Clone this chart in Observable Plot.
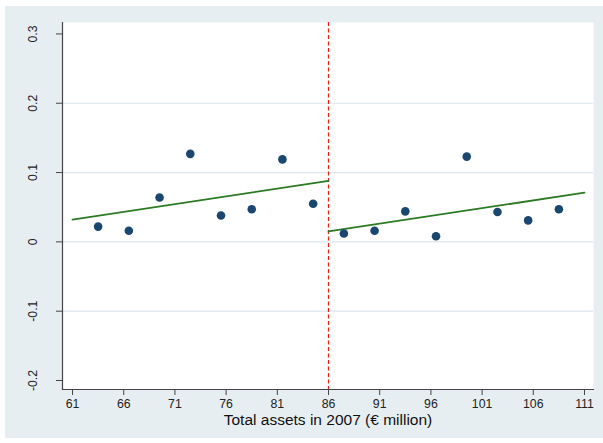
<!DOCTYPE html>
<html>
<head>
<meta charset="utf-8">
<script src="https://cdn.jsdelivr.net/npm/d3@7"></script>
<script src="https://cdn.jsdelivr.net/npm/@observablehq/plot@0.6"></script>
<style>
  html, body { margin: 0; padding: 0; background: #ffffff; }
  #chart { position: absolute; left: 5px; top: 6px; }
  #chart svg { display: block; background: #e7eef2; }
</style>
</head>
<body>
<div id="chart"></div>
<script>
// Binned means, left of cutoff
const leftBinX = [63.5, 66.5, 69.5, 72.5, 75.5, 78.5, 81.5, 84.5];
const leftBinY = [0.022, 0.016, 0.064, 0.127, 0.038, 0.047, 0.119, 0.055];
// Binned means, right of cutoff
const rightBinX = [87.5, 90.5, 93.5, 96.5, 99.5, 102.5, 105.5, 108.5];
const rightBinY = [0.012, 0.016, 0.044, 0.008, 0.123, 0.043, 0.031, 0.047];
// Linear fits
const leftFitX = [61, 86];
const leftFitY = [0.032, 0.088];
const rightFitX = [86, 111];
const rightFitY = [0.015, 0.071];
const cutoff = 86;
// Axes
const xTicks = [61, 66, 71, 76, 81, 86, 91, 96, 101, 106, 111];
const yTicks = [-0.2, -0.1, 0, 0.1, 0.2, 0.3];
const yTickLabels = ["-0.2", "-0.1", "0", "0.1", "0.2", "0.3"];
const yGrid = [-0.1, 0, 0.1, 0.2];
const xTitle = "Total assets in 2007 (€ million)";

const points = [
  ...leftBinX.map((x, i) => ({x, y: leftBinY[i]})),
  ...rightBinX.map((x, i) => ({x, y: rightBinY[i]}))
];
const leftFit = leftFitX.map((x, i) => ({x, y: leftFitY[i]}));
const rightFit = rightFitX.map((x, i) => ({x, y: rightFitY[i]}));
const yLab = new Map(yTicks.map((t, i) => [t, yTickLabels[i]]));

const chart = Plot.plot({
  width: 598,
  height: 432,
  marginLeft: 57,
  marginTop: 16,
  marginRight: 10,
  marginBottom: 49,
  style: {fontFamily: "'Liberation Sans', Arial, sans-serif", fontSize: "12.3px", color: "#222", background: "#e7eef2"},
  x: {domain: [60.02, 111.88]},
  y: {domain: [-0.213, 0.3165]},
  marks: [
    Plot.frame({fill: "white", stroke: "none"}),
    Plot.gridY(yGrid, {stroke: "#dbe5eb", strokeOpacity: 1, strokeWidth: 1.2}),
    Plot.axisX({ticks: xTicks, tickSize: 6, tickPadding: 4, label: null, stroke: "#444", tickFormat: d => String(d)}),
    Plot.axisY({ticks: yTicks, tickSize: 6, label: null, stroke: "#444", tickFormat: () => ""}),
    Plot.text(yTicks, {y: d => d, text: d => yLab.get(d), frameAnchor: "left", dx: -29, rotate: -90, textAnchor: "middle", lineAnchor: "middle", fill: "#222"}),
    Plot.ruleX([cutoff], {stroke: "#e2231a", strokeWidth: 1.3, strokeDasharray: "4,2.5"}),
    Plot.line(leftFit, {x: "x", y: "y", stroke: "#2a7a22", strokeWidth: 1.8}),
    Plot.line(rightFit, {x: "x", y: "y", stroke: "#2a7a22", strokeWidth: 1.8}),
    Plot.dot(points, {x: "x", y: "y", r: 4.3, fill: "#1a476f", stroke: "none"}),
    Plot.frame({anchor: "left", stroke: "#444", strokeWidth: 1.2}),
    Plot.frame({anchor: "bottom", stroke: "#444", strokeWidth: 1.2}),
    Plot.text([xTitle], {text: d => d, frameAnchor: "bottom", dy: 31, lineAnchor: "middle", fontSize: 15.5, fill: "#111"})
  ]
});
document.getElementById("chart").appendChild(chart);
</script>
</body>
</html>
